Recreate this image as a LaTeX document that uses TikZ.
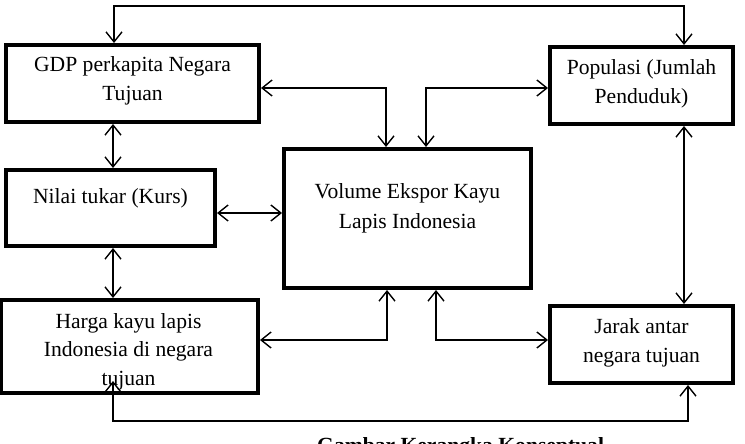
\documentclass[tikz,border=0pt]{standalone}
\usepackage{fontspec}
\setmainfont{Liberation Serif}
\usetikzlibrary{arrows.meta}
\begin{document}
\begin{tikzpicture}[x=1pt,y=-1pt,
  box/.style={draw=black,line width=4pt,minimum width=#1,inner sep=0pt,outer sep=2pt},
  lbl/.style={align=center,anchor=base,inner sep=0pt,font=\fontsize{21.6}{28.5}\selectfont},
  conn/.style={line width=1.4pt,{Straight Barb[length=10pt,width=16pt]}-{Straight Barb[length=10pt,width=16pt]}}]
\useasboundingbox (0,0) rectangle (745,444);
% boxes
\node[box=253pt,minimum height=77pt] (gdp) at (132.5,83.5) {};
\node[box=209pt,minimum height=76pt] (nilai) at (110.5,208) {};
\node[box=257pt,minimum height=93pt] (harga) at (129.5,346.5) {};
\node[box=247pt,minimum height=139pt] (vol) at (407.5,218.5) {};
\node[box=183pt,minimum height=77pt] (pop) at (641.5,85.5) {};
\node[box=183pt,minimum height=77pt] (jarak) at (641.5,344.5) {};
% texts (anchor base = baseline of last line)
\node[lbl] (tgdp) at (132.5,100) {GDP perkapita Negara\\Tujuan};
\node[lbl] (tnilai) at (110.5,203) {Nilai tukar (Kurs)};
\node[lbl] (tharga) at (128.5,385) {Harga kayu lapis\\Indonesia di negara\\tujuan};
\node[lbl,font=\fontsize{21.6}{30}\selectfont] (tvol) at (407.5,228) {Volume Ekspor Kayu\\Lapis Indonesia};
\node[lbl] (tpop) at (641.5,103) {Populasi (Jumlah\\Penduduk)};
\node[lbl] (tjarak) at (641.5,362) {Jarak antar\\negara tujuan};
\node[anchor=base west,inner sep=0pt,font=\fontsize{21.6}{26}\selectfont\bfseries] (cap) at (317,452) {Gambar Kerangka Konseptual};
% helper coordinates
\coordinate (t1) at (114,6);
\coordinate (t2) at (684,6);
\coordinate (c1) at (386,88);
\coordinate (c2) at (426,88);
\coordinate (c3) at (113,0);
\coordinate (c4) at (0,213);
\coordinate (c5) at (387,340);
\coordinate (c6) at (436,340);
\coordinate (c7) at (684,0);
\coordinate (b1) at (113,421);
\coordinate (b2) at (688,421);
\coordinate (b1e) at (113,381);
% connectors
\draw[conn] (gdp.north -| t1) -- (t1) -- (t2) -- (pop.north -| t2);
\draw[conn] (gdp.east |- c1) -- (c1) -- (vol.north -| c1);
\draw[conn] (pop.west |- c2) -- (c2) -- (vol.north -| c2);
\draw[conn] (gdp.south -| c3) -- (nilai.north -| c3);
\draw[conn] (nilai.east |- c4) -- (vol.west |- c4);
\draw[conn] (nilai.south -| c3) -- (harga.north -| c3);
\draw[conn] (harga.east |- c5) -- (c5) -- (vol.south -| c5);
\draw[conn] (vol.south -| c6) -- (c6) -- (jarak.west |- c6);
\draw[conn] (pop.south -| c7) -- (jarak.north -| c7);
\draw[conn] (b1e) -- (b1) -- (b2) -- (jarak.south -| b2);
\end{tikzpicture}
\end{document}
